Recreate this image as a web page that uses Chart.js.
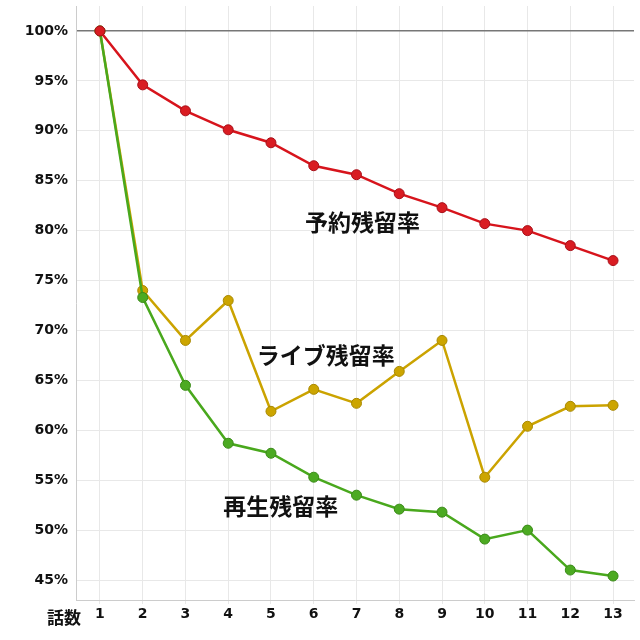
<!DOCTYPE html>
<html><head><meta charset="utf-8">
<script src="https://cdn.jsdelivr.net/npm/chart.js@4"></script>
<style>html,body{margin:0;padding:0;background:#fff}#w{width:640px;height:640px}</style>
</head><body><div id="w"><canvas id="c" width="640" height="640"></canvas></div>
<script>
const categories = ['1','2','3','4','5','6','7','8','9','10','11','12','13'];
const reservation = [100, 94.6, 92.0, 90.1, 88.8, 86.5, 85.6, 83.7, 82.3, 80.7, 80.0, 78.5, 77.0];
const live = [100, 74.0, 69.0, 73.0, 61.9, 64.1, 62.7, 65.9, 69.0, 55.3, 60.4, 62.4, 62.5];
const playback = [100, 73.3, 64.5, 58.7, 57.7, 55.3, 53.5, 52.1, 51.8, 49.1, 50.0, 46.0, 45.4];
const yTicks = [45, 50, 55, 60, 65, 70, 75, 80, 85, 90, 95, 100];
const seriesNames = ['予約残留率', 'ライブ残留率', '再生残留率'];
const xAxisTitle = '話数';

const JP = '"Noto Sans CJK JP", "DejaVu Sans", sans-serif';
const NUM = '"DejaVu Sans", sans-serif';

const annot = {
  id: 'annot',
  afterDatasetsDraw(chart) {
    const {ctx, scales: {x, y}} = chart;
    const spots = [[7.14, 80.8], [6.28, 67.5], [5.23, 52.4]];
    ctx.save();
    ctx.fillStyle = '#111';
    ctx.font = 'bold 23px ' + JP;
    ctx.textAlign = 'center';
    ctx.textBaseline = 'middle';
    seriesNames.forEach((n, i) => {
      ctx.fillText(n, x.getPixelForValue(spots[i][0]), y.getPixelForValue(spots[i][1]));
    });
    ctx.font = 'bold 17px ' + JP;
    ctx.textAlign = 'left';
    ctx.fillText(xAxisTitle, 47, 618);
    ctx.restore();
  }
};

const pts = vals => categories.map((c, i) => ({x: Number(c), y: vals[i]}));

const ds = (label, data, line, fill, border) => ({
  label, data: pts(data), borderColor: line, backgroundColor: fill,
  pointBackgroundColor: fill, pointBorderColor: border, pointBorderWidth: 1,
  pointRadius: 5, borderWidth: 2.5, tension: 0, fill: false
});

new Chart(document.getElementById('c'), {
  type: 'line',
  data: {
    datasets: [
      ds(seriesNames[0], reservation, '#d7141c', '#d91c22', '#a8101a'),
      ds(seriesNames[2], playback, '#49a81d', '#4caa22', '#3a8a18'),
      ds(seriesNames[1], live, '#cba300', '#cca500', '#a88800')
    ]
  },
  options: {
    responsive: false,
    animation: false,
    layout: {padding: {top: 5, right: 1, left: 0, bottom: 0}},
    plugins: {legend: {display: false}, tooltip: {enabled: false}},
    scales: {
      x: {
        type: 'linear',
        min: 0.44, max: 13.49,
        afterBuildTicks(s) { s.ticks = categories.map(c => ({value: Number(c)})); },
        grid: {color: '#e8e8e8', drawTicks: true, tickLength: 4},
        border: {color: '#cccccc'},
        ticks: {color: '#111', font: {family: NUM, size: 14, weight: 'bold'}, padding: 2, maxRotation: 0,
                callback: v => categories[v - 1]},
        afterFit(s) { s.height = 40; s.paddingLeft = 0; s.paddingRight = 0; }
      },
      y: {
        min: 43, max: 102.5,
        afterBuildTicks(s) { s.ticks = yTicks.map(v => ({value: v})); },
        grid: {
          drawTicks: false,
          color: c => (c.tick && c.tick.value === 100) ? '#777777' : '#e8e8e8',
          lineWidth: c => (c.tick && c.tick.value === 100) ? 1.5 : 1
        },
        border: {color: '#cccccc'},
        ticks: {color: '#111', font: {family: NUM, size: 14, weight: 'bold'}, padding: 8, callback: v => v + '%'},
        afterFit(s) { s.width = 76; s.paddingTop = 0; s.paddingBottom = 0; }
      }
    }
  },
  plugins: [annot]
});
</script>
</body></html>
